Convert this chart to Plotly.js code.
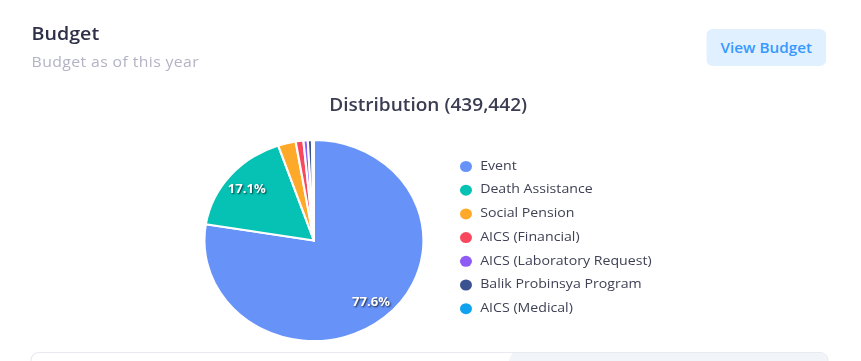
<!DOCTYPE html>
<html>
<head>
<meta charset="utf-8">
<script src="https://cdn.plot.ly/plotly-3.0.1.min.js"></script>
<style>
  html, body { margin:0; padding:0; background:#ffffff; width:861px; height:361px; overflow:hidden; }
  #stage { position:absolute; left:0; top:0; width:790px; height:361px; transform:scaleX(1.09); transform-origin:0 0; font-family:"Open Sans", sans-serif; }
  #chart { position:absolute; left:0; top:0; width:790px; height:361px; }
  #h1 { position:absolute; left:29px; top:21px; font-size:18px; font-weight:600; color:#2d3047; }
  #h2 { position:absolute; left:29px; top:52px; font-size:14.5px; font-weight:500; color:#b3b3c5; letter-spacing:0.35px; }
  #btn { position:absolute; left:648px; top:29px; width:110px; height:37px; background:#e1f0ff; border-radius:6px; color:#3699ff; font-size:14px; font-weight:600; text-align:center; line-height:37px; }
  #card { position:absolute; left:28px; top:352px; width:730px; height:40px; border:1px solid #e8eaf0; border-radius:8px; background:#fff; overflow:hidden; }
  #cardfill { position:absolute; left:425px; top:0; right:0; bottom:0; background:#f1f4f8; clip-path:polygon(16px 0, 100% 0, 100% 100%, 0 100%); }
</style>
</head>
<body>
<div id="stage">
  <div id="chart"></div>
  <div id="h1">Budget</div>
  <div id="h2">Budget as of this year</div>
  <div id="btn">View Budget</div>
  <div id="card"><div id="cardfill"></div></div>
</div>
<script>
// ---- data ----
const categories = ["Event", "Death Assistance", "Social Pension", "AICS (Financial)", "AICS (Laboratory Request)", "Balik Probinsya Program", "AICS (Medical)"];
const budgetValues = [341000, 75200, 11500, 5000, 2800, 2700, 1242];
const sliceColors = ["#6793f9", "#05c2b5", "#fea92a", "#f8485e", "#8e5cf5", "#3b5290", "#10a2ee"];

// ---- derived ----
const total = budgetValues.reduce((a, b) => a + b, 0);
const titleText = "Distribution (" + total.toLocaleString("en-US") + ")";

// layout constants (pixel space of the 790x361 stage)
const W = 790, H = 361;
const pieCX = 288, pieCY = 240.5, pieR = 100.5;
const legMarkerX = 427.5, legTextX = 440.5, legY0 = 166.5, legStep = 23.7;
const legY = categories.map((c, i) => legY0 + i * legStep);

// percentage labels for slices above 5%, placed along each slice's mid-angle
const labelAnnotations = [];
let cum = 0;
budgetValues.forEach(v => {
  const frac = v / total;
  const mid = (cum + frac / 2) * 2 * Math.PI;
  cum += frac;
  if (frac > 0.05) {
    const rr = pieR * 0.8;
    labelAnnotations.push({
      x: pieCX + Math.sin(mid) * rr, y: pieCY - Math.cos(mid) * rr,
      xref: "x", yref: "y", showarrow: false,
      text: (frac * 100).toFixed(1) + "%",
      xanchor: "center", yanchor: "middle",
      font: { family: "Open Sans", size: 12, weight: 700, color: "#ffffff", shadow: "1px 1px 2px rgba(0,0,0,0.75)" }
    });
  }
});

const pie = {
  type: "pie",
  labels: categories,
  values: budgetValues,
  sort: false,
  direction: "clockwise",
  rotation: 0,
  marker: { colors: sliceColors, line: { color: "#ffffff", width: 2 } },
  textinfo: "none",
  hoverinfo: "skip",
  showlegend: false,
  domain: { x: [(pieCX - pieR) / W, (pieCX + pieR) / W], y: [(H - pieCY - pieR) / H, (H - pieCY + pieR) / H] }
};

const legendMarkers = {
  type: "scatter",
  mode: "markers",
  x: categories.map(() => legMarkerX),
  y: legY,
  marker: { color: sliceColors, size: 11, symbol: "circle", line: { width: 0 } },
  hoverinfo: "skip",
  showlegend: false,
  cliponaxis: false
};

const legendText = {
  type: "scatter",
  mode: "text",
  x: categories.map(() => legTextX),
  y: legY,
  text: categories,
  textposition: "middle right",
  textfont: { family: "Open Sans", size: 13, color: "#3f4254" },
  hoverinfo: "skip",
  showlegend: false,
  cliponaxis: false
};

const layout = {
  width: W, height: H,
  margin: { l: 0, r: 0, t: 0, b: 0, pad: 0 },
  paper_bgcolor: "rgba(0,0,0,0)",
  plot_bgcolor: "rgba(0,0,0,0)",
  showlegend: false,
  xaxis: { range: [0, W], visible: false, fixedrange: true },
  yaxis: { range: [H, 0], visible: false, fixedrange: true },
  annotations: [{
    x: 393, y: 104, xref: "x", yref: "y",
    text: titleText, showarrow: false,
    xanchor: "center", yanchor: "middle",
    font: { family: "Open Sans", size: 17.5, color: "#3a3d52", weight: 600 }
  }].concat(labelAnnotations)
};

Plotly.newPlot("chart", [pie, legendMarkers, legendText], layout, { staticPlot: true, displayModeBar: false });
</script>
</body>
</html>
